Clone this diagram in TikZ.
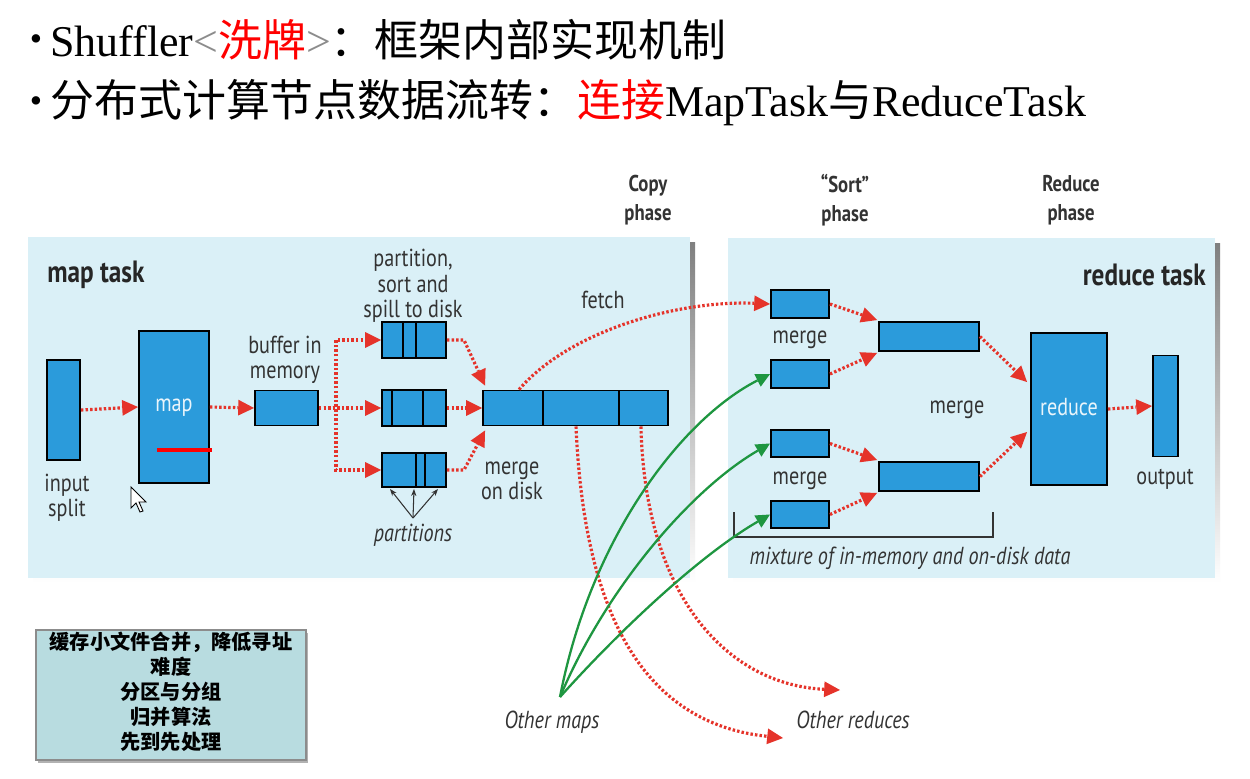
\documentclass[tikz,border=0pt]{standalone}
\usepackage{fontspec}
\setmainfont{Liberation Serif}
\newfontfamily\cjk{Noto Sans CJK SC}
\newfontfamily\dg[FakeStretch=0.82]{PT Sans}
\usetikzlibrary{arrows.meta,calc}
\definecolor{boxblue}{HTML}{2B9BDB}
\definecolor{panel}{HTML}{DAF0F7}
\definecolor{rdot}{HTML}{E5332A}
\definecolor{grn}{HTML}{1E9640}
\definecolor{txt}{HTML}{333333}
\definecolor{note}{HTML}{B8DCE0}
\definecolor{shade}{HTML}{AEB8BC}
\tikzset{
  bx/.style 2 args={draw=black, line width=1.1pt, fill=boxblue, inner sep=0pt,
    minimum width=#1*0.02cm, minimum height=#2*0.02cm},
  lbl/.style={font=\dg\fontsize{14}{14.5}\selectfont, text=txt, align=center, inner sep=0pt},
  lbli/.style={font=\dg\itshape\fontsize{14}{14.5}\selectfont, text=txt, align=center, inner sep=0pt},
  phase/.style={font=\dg\bfseries\fontsize{13}{16.5}\selectfont, text=txt, align=center, inner sep=0pt},
  tasklbl/.style={font=\dg\bfseries\fontsize{17.5}{18}\selectfont, text=black!85, inner sep=0pt},
  rarr/.style={draw=rdot, line width=1.8pt, dash pattern=on 1.4pt off 1.2pt,
    -{Triangle[length=9pt,width=9pt,fill=rdot,line width=0pt]}},
  garr/.style={draw=grn, line width=1.3pt, -{Triangle[length=8pt,width=8pt,fill=grn,line width=0pt]}},
  karr/.style={draw=black!80, line width=0.6pt, -{Stealth[length=4pt,width=3pt]}},
  divl/.style={draw=black, line width=1.1pt},
}
\begin{document}
\begin{tikzpicture}[x=0.02cm,y=-0.02cm]
\useasboundingbox (0,0) rectangle (1250,778);
\fill[white] (0,0) rectangle (1250,778);

% ---------- title ----------
\node[inner sep=0pt, font=\fontsize{20}{20}\selectfont] (b1) at (36,43) {•};
\node[inner sep=0pt, font=\fontsize{20}{20}\selectfont] (b2) at (36,105) {•};
\node[anchor=west, inner sep=0pt, font=\fontsize{25}{28}\selectfont] (t1) at (50,40)
  {Shuffler{\color{black!45}<}{\cjk\color{red}洗牌}{\color{black!45}>}{\cjk ：框架内部实现机制}};
\node[anchor=west, inner sep=0pt, font=\fontsize{25}{28}\selectfont] (t2) at (50,103)
  {{\cjk 分布式计算节点数据流转：}{\cjk\color{red}连接}MapTask{\cjk 与}ReduceTask};

% ---------- panels ----------
\fill[shade] (33,242) rectangle (695,583);
\fill[panel] (28,237) rectangle (690,578);
\fill[shade] (733,243) rectangle (1220,583);
\fill[panel] (728,238) rectangle (1215,578);

\node[tasklbl, anchor=west] (mtask) at (47,275) {map task};
\node[tasklbl, anchor=east] (rtask) at (1206,275) {reduce task};

\node[phase] (ph1) at (648,200) {Copy\\phase};
\node[phase] (ph2) at (845,200) {“Sort”\\phase};
\node[phase] (ph3) at (1071,200) {Reduce\\phase};

% ---------- map side ----------
\node[bx={33}{100}] (insplit) at (63.5,410) {};
\node[lbl] (inlbl) at (67,498) {input\\split};
\node[bx={70}{152}] (mapb) at (174,407) {};
\node[font=\dg\fontsize{14}{14}\selectfont, text=white!90!boxblue, inner sep=0pt] (maplbl) at (174,408) {map};
\draw[red, line width=1.8pt] (157,450) -- (212,450);

\node[bx={63}{35}] (buf) at (286.5,408) {};
\node[lbl] (buflbl) at (285,360) {buffer in\\memory};

\node[bx={64}{36}] (p1) at (414,340) {};
\node[bx={64}{36}] (p2) at (414,408) {};
\node[bx={64}{34}] (p3) at (414,470) {};
\draw[divl] (403,322) -- (403,358); \draw[divl] (416,322) -- (416,358);
\draw[divl] (392,390) -- (392,426); \draw[divl] (423,390) -- (423,426);
\draw[divl] (416,453) -- (416,487); \draw[divl] (425,453) -- (425,487);
\node[lbl] (pslbl) at (413,286) {partition,\\sort and\\spill to disk};

\node[bx={185}{35}] (mg) at (575.5,408) {};
\draw[divl] (543,390.5) -- (543,425.5); \draw[divl] (619,390.5) -- (619,425.5);
\node[lbl] (mdlbl) at (512,481) {merge\\on disk};
\node[lbl] (fetch) at (603,300) {fetch};

\node[lbli] (parts) at (413,535) {partitions};
\coordinate (pj) at (413,518);
\draw[karr] (pj) -- ($(p3.south)+(-24,1)$);
\draw[karr] (pj) -- ($(p3.south)+(0,1)$);
\draw[karr] (pj) -- ($(p3.south)+(24,1)$);

\draw[rarr] (insplit.east) -- (mapb.west);
\draw[rarr] (mapb.east) -- (buf.west);
\draw[rarr] (buf.east) -- ++(17,0) |- (p1.west);
\draw[rarr] (buf.east) -- (p2.west);
\draw[rarr] (buf.east) -- ++(17,0) |- (p3.west);
\draw[rarr] (p1.east) -- ++(17,0) -- ($(mg.north west)+(3,-4)$);
\draw[rarr] (p2.east) -- (mg.west);
\draw[rarr] (p3.east) -- ++(17,0) -- ($(mg.south west)+(3,4)$);

% ---------- reduce side ----------
\node[bx={58}{28}] (r1) at (800,304) {};
\node[bx={58}{28}] (r2) at (800,374) {};
\node[bx={58}{27}] (r3) at (800,443.5) {};
\node[bx={58}{27}] (r4) at (800,514.5) {};
\node[lbl] (mgl1) at (800,340) {merge};
\node[lbl] (mgl2) at (800,481) {merge};
\node[bx={100}{29}] (m1) at (929,336.5) {};
\node[bx={100}{29}] (m2) at (929,476.5) {};
\node[lbl] (mgl3) at (957,410) {merge};
\node[bx={76}{152}] (red) at (1069,409) {};
\node[font=\dg\fontsize{14}{14}\selectfont, text=white!90!boxblue, inner sep=0pt] (redlbl) at (1069,407) {reduce};
\node[bx={25}{101}] (out) at (1165.5,406) {};
\node[lbl] (outlbl) at (1165,479) {output};

\draw[txt, line width=0.8pt] (734,512) -- (734,537) -- (993,537) -- (993,512);
\node[lbli] (mix) at (910,558) {mixture of in-memory and on-disk data};

\draw[rarr] (r1.east) -- ($(m1.north west)+(-1,-1)$);
\draw[rarr] (r2.east) -- ($(m1.south west)+(-1,1)$);
\draw[rarr] (r3.east) -- ($(m2.north west)+(-1,-1)$);
\draw[rarr] (r4.east) -- ($(m2.south west)+(-1,1)$);
\draw[rarr] (m1.east) -- ($(red.west)+(-3,-27)$);
\draw[rarr] (m2.east) -- ($(red.west)+(-3,23)$);
\draw[rarr] (red.east) -- (out.west);

% ---------- between ----------
\draw[rarr] ($(mg.north west)+(37,0)$) .. controls (570,330) and (680,300) .. (r1.west);

\node[lbli] (omaps) at (552,722) {Other maps};
\node[lbli] (oreds) at (853,720) {Other reduces};
\coordinate (og) at (560,697);
\coordinate (or1) at (783,738);
\coordinate (or2) at (840,690);

\draw[rarr] ($(mg.south west)+(94,0)$) .. controls (585,640) and (660,725) .. (or1);
\draw[rarr] ($(mg.south east)+(-28,0)$) .. controls (645,600) and (730,685) .. (or2);

\draw[garr] (og) .. controls (590,540) and (680,420) .. (r2.west);
\draw[garr] (og) .. controls (605,590) and (690,490) .. (r3.west);
\draw[garr] (og) .. controls (620,630) and (700,555) .. (r4.west);

% ---------- note box ----------
\fill[black!30] (38,633) rectangle (308,763);
\node[draw=black!45, line width=1pt, fill=note, minimum width=270*0.02cm, minimum height=130*0.02cm, inner sep=0pt] (note) at (171,695) {};
\node[anchor=north, inner sep=0pt, align=center, font=\cjk\bfseries\fontsize{11.5}{14.2}\selectfont] (notetxt) at (171,632)
  {缓存小文件合并，降低寻址\\难度\\分区与分组\\归并算法\\先到先处理};

% ---------- cursor ----------
\draw[fill=white, draw=black, line width=0.5pt] (131,487) -- (131,508) -- (136,503) -- (140,512) -- (143,511) -- (139,502) -- (146,502) -- cycle;
\end{tikzpicture}
\end{document}
